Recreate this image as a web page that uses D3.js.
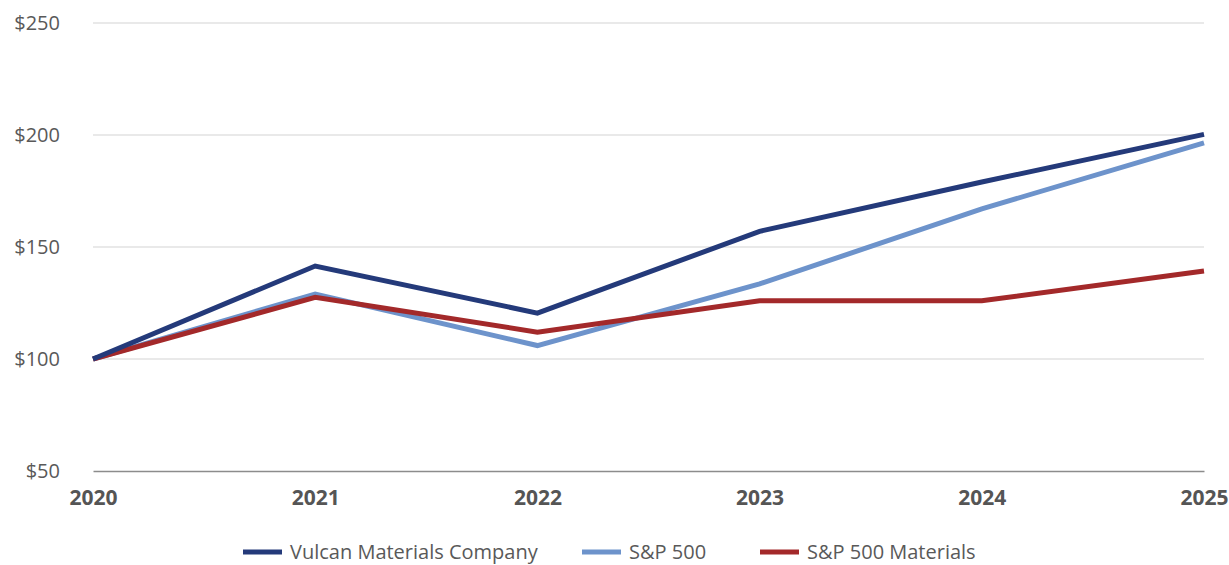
<!DOCTYPE html>
<html>
<head>
<meta charset="utf-8">
<script src="https://cdn.jsdelivr.net/npm/d3@7"></script>
<style>
  body { margin: 0; background: #fff; }
  text { font-family: "Open Sans", Lato, sans-serif; }
</style>
</head>
<body>
<svg id="chart" width="1229" height="565"></svg>
<script>
// chart data
var years = [2020, 2021, 2022, 2023, 2024, 2025];
var vulcan = [100, 141.5, 120.5, 157, 179, 200.3];
var sp500 = [100, 129, 106, 133.5, 167, 196.5];
var spMaterials = [100, 127.5, 112, 126, 126, 139.3];
var yTicks = [50, 100, 150, 200, 250];

var series = [
	{ name: 'Vulcan Materials Company', values: vulcan, color: '#243a7a' },
	{ name: 'S&P 500', values: sp500, color: '#6d93cb' },
	{ name: 'S&P 500 Materials', values: spMaterials, color: '#a3292a' }
];

var margin = { top: 23, right: 25, bottom: 94, left: 93 };
var width = 1229, height = 565;

var svg = d3.select('#chart');

var x = d3.scaleLinear()
	.domain([2020, 2025])
	.range([margin.left, width - margin.right]);

var y = d3.scaleLinear()
	.domain([50, 250])
	.range([height - margin.bottom, margin.top]);

// gridlines
svg.append('g')
	.selectAll('line')
	.data(yTicks.filter(function(d) { return d > 50; }))
	.join('line')
	.attr('x1', margin.left)
	.attr('x2', width - margin.right)
	.attr('y1', function(d) { return y(d); })
	.attr('y2', function(d) { return y(d); })
	.attr('stroke', '#e2e2e2')
	.attr('stroke-width', 1.5);

// y axis labels
var yAxis = d3.axisLeft(y)
	.tickValues(yTicks)
	.tickSize(0)
	.tickPadding(33)
	.tickFormat(function(d) { return '$' + d; });

svg.append('g')
	.attr('transform', 'translate(' + margin.left + ',0)')
	.call(yAxis)
	.call(function(g) { g.select('.domain').remove(); })
	.selectAll('text')
	.attr('font-size', 20)
	.attr('fill', '#595959');

// x axis
var xAxis = d3.axisBottom(x)
	.tickValues(years)
	.tickSize(0)
	.tickPadding(19)
	.tickFormat(d3.format('d'));

svg.append('g')
	.attr('transform', 'translate(0,' + y(50) + ')')
	.call(xAxis)
	.call(function(g) {
		g.select('.domain').attr('stroke', '#8c8c8c').attr('stroke-width', 1.5);
	})
	.selectAll('text')
	.attr('font-size', 21)
	.attr('font-weight', 'bold')
	.attr('fill', '#555555');

// lines
var line = d3.line()
	.x(function(d, i) { return x(years[i]); })
	.y(function(d) { return y(d); });

svg.append('g')
	.selectAll('path')
	.data(series.slice().reverse())
	.join('path')
	.attr('d', function(s) { return line(s.values); })
	.attr('fill', 'none')
	.attr('stroke', function(s) { return s.color; })
	.attr('stroke-width', 5)
	.attr('stroke-linejoin', 'miter');

// light blue sits underneath the other two
svg.selectAll('path').filter(function(s) { return s && s.name === 'S&P 500'; }).lower();

// legend
var legendX = [243, 582, 760];
var legend = svg.append('g')
	.selectAll('g')
	.data(series)
	.join('g')
	.attr('transform', function(d, i) { return 'translate(' + legendX[i] + ',552)'; });

legend.append('line')
	.attr('x1', 0).attr('x2', 39)
	.attr('stroke', function(d) { return d.color; })
	.attr('stroke-width', 5);

legend.append('text')
	.attr('x', 47)
	.attr('dy', '0.35em')
	.attr('font-size', 20)
	.attr('fill', '#595959')
	.text(function(d) { return d.name; });
</script>
</body>
</html>
